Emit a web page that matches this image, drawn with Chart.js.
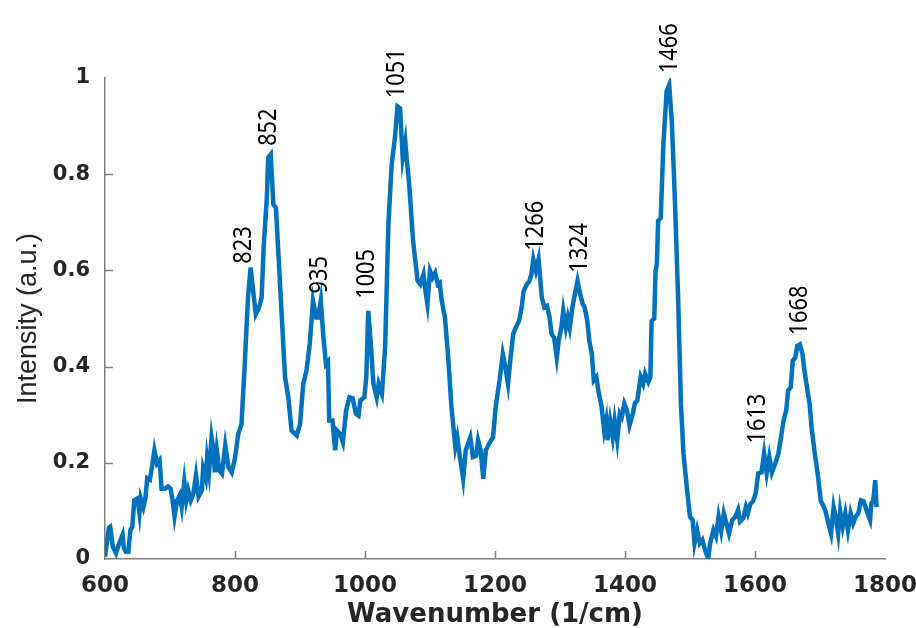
<!DOCTYPE html>
<html>
<head>
<meta charset="utf-8">
<script src="https://cdn.jsdelivr.net/npm/chart.js@4"></script>
<style>
  html, body { margin: 0; padding: 0; background: #fff; }
</style>
</head>
<body>
<canvas id="spectrum" width="916" height="628"></canvas>
<script>
// Raman spectrum, values
var wavenumbers = [
  600, 606, 608, 612, 617, 622, 627, 629, 632, 636, 639, 642, 645, 650, 653, 655, 659, 662, 665, 669,
  673, 676, 680, 684, 687, 692, 697, 701, 704, 707, 711, 715, 718, 722, 725, 728, 732, 736, 740, 744,
  749, 751, 755, 757, 760, 764, 767, 769, 772, 776, 780, 785, 790, 795, 800, 805, 810, 815, 820, 824,
  828, 832, 837, 841, 844, 849, 851, 855, 859, 863, 869, 877, 882, 887, 895, 900, 905, 910, 915, 920,
  925, 928, 932, 936, 940, 943, 945, 950, 954, 957, 962, 966, 971, 976, 981, 986, 990, 993, 999, 1002,
  1005, 1009, 1013, 1018, 1021, 1026, 1031, 1036, 1041, 1046, 1050, 1054, 1058, 1062, 1064, 1068, 1074, 1081, 1085, 1090,
  1093, 1096, 1100, 1104, 1108, 1112, 1115, 1118, 1123, 1128, 1133, 1139, 1142, 1146, 1151, 1155, 1162, 1166, 1171, 1174,
  1178, 1182, 1186, 1191, 1197, 1201, 1207, 1212, 1216, 1220, 1224, 1228, 1232, 1237, 1241, 1244, 1249, 1253, 1256, 1259,
  1263, 1267, 1269, 1272, 1276, 1280, 1284, 1287, 1291, 1295, 1298, 1302, 1305, 1309, 1312, 1315, 1319, 1323, 1327, 1331,
  1335, 1338, 1342, 1345, 1349, 1352, 1356, 1359, 1364, 1368, 1371, 1373, 1377, 1381, 1384, 1388, 1392, 1395, 1399, 1403,
  1407, 1412, 1415, 1419, 1424, 1428, 1431, 1436, 1439, 1441, 1445, 1447, 1449, 1451, 1455, 1459, 1464, 1468, 1472, 1477,
  1482, 1486, 1490, 1495, 1500, 1504, 1507, 1511, 1515, 1519, 1523, 1528, 1531, 1536, 1540, 1544, 1548, 1552, 1556, 1560,
  1565, 1570, 1574, 1577, 1582, 1586, 1589, 1593, 1597, 1601, 1605, 1610, 1614, 1618, 1622, 1626, 1631, 1636, 1640, 1644,
  1648, 1651, 1655, 1658, 1662, 1665, 1669, 1673, 1676, 1680, 1684, 1687, 1692, 1697, 1701, 1708, 1713, 1717, 1721, 1725,
  1728, 1731, 1735, 1739, 1743, 1747, 1751, 1755, 1759, 1763, 1767, 1770, 1773, 1777, 1779, 1782, 1785, 1787
];
var intensity = [
  0.005, 0.065, 0.067, 0.026, 0.012, 0.033, 0.05, 0.023, 0.015, 0.015, 0.06, 0.067, 0.122, 0.126, 0.095, 0.126, 0.108, 0.126, 0.168, 0.165,
  0.198, 0.226, 0.198, 0.205, 0.146, 0.146, 0.151, 0.146, 0.122, 0.088, 0.122, 0.133, 0.108, 0.16, 0.122, 0.143, 0.122, 0.136, 0.174, 0.13,
  0.143, 0.188, 0.168, 0.209, 0.18, 0.253, 0.226, 0.18, 0.226, 0.184, 0.177, 0.236, 0.191, 0.18, 0.21, 0.26, 0.28, 0.405, 0.544, 0.606,
  0.557, 0.509, 0.523, 0.544, 0.647, 0.751, 0.834, 0.841, 0.737, 0.73, 0.578, 0.378, 0.336, 0.267, 0.257, 0.28, 0.364, 0.392, 0.447, 0.537,
  0.502, 0.502, 0.537, 0.461, 0.405, 0.41, 0.288, 0.288, 0.226, 0.267, 0.26, 0.243, 0.309, 0.336, 0.334, 0.302, 0.298, 0.33, 0.336, 0.378,
  0.516, 0.447, 0.364, 0.336, 0.364, 0.344, 0.44, 0.696, 0.82, 0.875, 0.941, 0.937, 0.834, 0.868, 0.834, 0.779, 0.661, 0.578, 0.571, 0.592,
  0.557, 0.53, 0.599, 0.585, 0.595, 0.571, 0.574, 0.537, 0.502, 0.419, 0.316, 0.233, 0.253, 0.212, 0.167, 0.226, 0.253, 0.212, 0.215, 0.247,
  0.226, 0.167, 0.226, 0.24, 0.253, 0.316, 0.371, 0.426, 0.399, 0.364, 0.419, 0.468, 0.481, 0.495, 0.523, 0.557, 0.571, 0.578, 0.592, 0.623,
  0.599, 0.623, 0.592, 0.544, 0.523, 0.526, 0.502, 0.468, 0.46, 0.419, 0.454, 0.481, 0.516, 0.481, 0.502, 0.481, 0.523, 0.551, 0.578, 0.551,
  0.53, 0.523, 0.495, 0.454, 0.426, 0.371, 0.378, 0.35, 0.316, 0.267, 0.288, 0.247, 0.288, 0.253, 0.288, 0.247, 0.302, 0.295, 0.323, 0.309,
  0.278, 0.302, 0.323, 0.33, 0.378, 0.364, 0.385, 0.368, 0.378, 0.495, 0.5, 0.599, 0.613, 0.703, 0.709, 0.861, 0.972, 0.986, 0.91, 0.737,
  0.53, 0.323, 0.219, 0.15, 0.088, 0.081, 0.033, 0.06, 0.033, 0.04, 0.019, 0, 0.033, 0.06, 0.047, 0.088, 0.058, 0.095, 0.074, 0.053,
  0.081, 0.088, 0.102, 0.078, 0.085, 0.108, 0.095, 0.115, 0.12, 0.136, 0.178, 0.18, 0.219, 0.178, 0.212, 0.18, 0.198, 0.219, 0.253, 0.288,
  0.309, 0.35, 0.357, 0.412, 0.419, 0.443, 0.446, 0.426, 0.392, 0.357, 0.323, 0.274, 0.219, 0.171, 0.122, 0.102, 0.074, 0.053, 0.108, 0.081,
  0.053, 0.1, 0.067, 0.095, 0.06, 0.095, 0.074, 0.088, 0.095, 0.122, 0.12, 0.108, 0.095, 0.081, 0.115, 0.122, 0.164, 0.108
];

// peak annotations: text, wavenumber it sits at, intensity where it starts
var peakLabels = ['823', '852', '935', '1005', '1051', '1266', '1324', '1466', '1613', '1668'];
var peakAt     = [814, 852, 931, 1003, 1049, 1263, 1330, 1469, 1605, 1669];
var peakFrom   = [0.614, 0.859, 0.552, 0.541, 0.958, 0.641, 0.595, 1.01, 0.24, 0.465];

var xTicks = [600, 800, 1000, 1200, 1400, 1600, 1800];
var yTicks = [0, 0.2, 0.4, 0.6, 0.8, 1];

var points = [];
for (var i = 0; i < wavenumbers.length; i++) {
  points.push({x: wavenumbers[i], y: intensity[i]});
}

var axisGray = '#7f7f7f';
var textDark = '#262626';

// inward tick marks + rotated peak labels
var extras = {
  id: 'extras',
  afterDraw: function(chart) {
    var c = chart.ctx;
    var xs = chart.scales.x, ys = chart.scales.y;
    var area = chart.chartArea;
    c.save();
    c.strokeStyle = axisGray;
    c.lineWidth = 1.5;
    c.beginPath();
    for (var i = 1; i < yTicks.length - 1; i++) {
      var py = Math.round(ys.getPixelForValue(yTicks[i])) + 0.5;
      c.moveTo(area.left, py);
      c.lineTo(area.left + 8, py);
    }
    for (var j = 1; j < xTicks.length - 1; j++) {
      var px = Math.round(xs.getPixelForValue(xTicks[j])) + 0.5;
      c.moveTo(px, area.bottom);
      c.lineTo(px, area.bottom - 8);
    }
    c.stroke();

    c.fillStyle = '#000';
    c.font = '25px "Noto Sans"';
    c.textAlign = 'left';
    c.textBaseline = 'middle';
    for (var k = 0; k < peakLabels.length; k++) {
      c.save();
      c.translate(xs.getPixelForValue(peakAt[k]), ys.getPixelForValue(peakFrom[k]));
      c.rotate(-Math.PI / 2);
      c.scale(0.87, 1);
      c.fillText(peakLabels[k], 0, 0);
      c.restore();
    }
    c.restore();
  }
};

new Chart(document.getElementById('spectrum'), {
  type: 'line',
  data: {
    datasets: [{
      data: points,
      borderColor: '#0072BD',
      borderWidth: 4.5,
      pointRadius: 0,
      tension: 0,
      fill: false
    }]
  },
  options: {
    responsive: false,
    animation: false,
    events: [],
    layout: { padding: { top: 78, right: 31, left: 0, bottom: 0 } },
    plugins: {
      legend: { display: false },
      tooltip: { enabled: false }
    },
    scales: {
      x: {
        type: 'linear',
        min: 600,
        max: 1800,
        afterFit: function(s) {
          s.height = 69;
          s.paddingLeft = 0;
          s.paddingRight = 0;
        },
        afterBuildTicks: function(s) { s.ticks = xTicks.map(function(v) { return {value: v}; }); },
        grid: { display: false, drawTicks: false },
        border: { display: true, color: axisGray, width: 1.5 },
        ticks: {
          padding: 13,
          color: textDark,
          font: { family: 'DejaVu Sans', weight: 'bold', size: 23 },
          maxRotation: 0,
          callback: function(v) { return String(v); }
        },
        title: {
          display: true,
          text: 'Wavenumber (1/cm)',
          color: textDark,
          font: { family: 'DejaVu Sans', weight: 'bold', size: 26, lineHeight: 1.0 },
          padding: { top: 0, bottom: 0 }
        }
      },
      y: {
        min: 0,
        max: 1,
        afterFit: function(s) {
          s.width = 105;
          s.paddingTop = 0;
          s.paddingBottom = 0;
        },
        afterBuildTicks: function(s) { s.ticks = yTicks.map(function(v) { return {value: v}; }); },
        grid: { display: false, drawTicks: false },
        border: { display: true, color: axisGray, width: 1.5 },
        ticks: {
          padding: 15,
          color: textDark,
          font: { family: 'DejaVu Sans', weight: 'bold', size: 21 },
          callback: function(v) { return String(Math.round(v * 10) / 10); }
        },
        title: {
          display: true,
          text: 'Intensity (a.u.)',
          color: textDark,
          font: { family: 'Liberation Sans', size: 27 },
          padding: { top: 12, bottom: 0 }
        }
      }
    }
  },
  plugins: [extras]
});
</script>
</body>
</html>
